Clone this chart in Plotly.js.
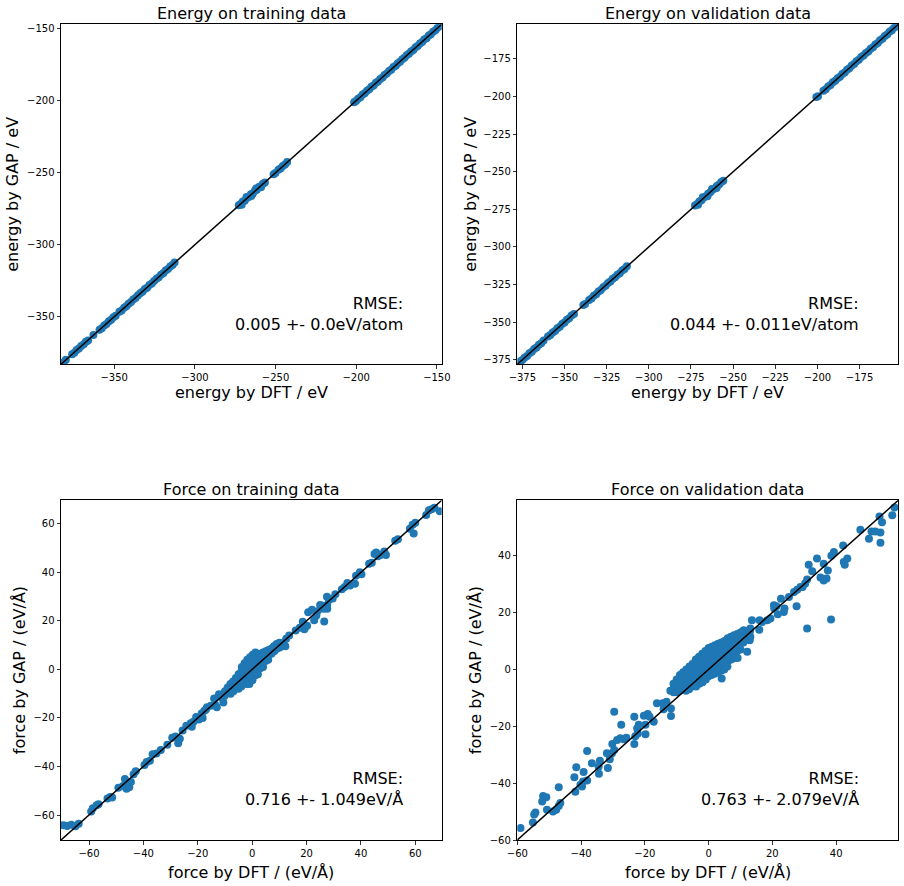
<!DOCTYPE html>
<html>
<head>
<meta charset="utf-8">
<script src="https://cdn.plot.ly/plotly-3.0.1.min.js"></script>
<style>
  body { margin: 0; background: #fff; }
  #plot-area { width: 904px; height: 886px; }
</style>
</head>
<body>
<div id="plot-area"></div>
<script>
// [DFT, GAP] pairs
const energyTrain = [
  [-382.6, -382.4], [-381.3, -381.5], [-380.0, -379.8],
  [-376.1, -376.0], [-374.7, -374.9], [-373.3, -373.1], [-371.9, -372.0], [-370.5, -370.3],
  [-368.9, -369.1], [-367.6, -367.4], [-366.2, -366.4],
  [-362.9, -362.7],
  [-359.1, -359.0], [-357.7, -357.9], [-356.2, -356.0], [-354.8, -355.0], [-353.3, -353.1], [-351.9, -352.1], [-350.5, -350.3], [-349.1, -349.3],
  [-346.8, -346.6], [-345.4, -345.6], [-343.9, -343.7], [-342.5, -342.7], [-341.1, -340.9], [-339.6, -339.8], [-338.2, -338.0], [-336.8, -337.0], [-335.4, -335.2],
  [-333.9, -333.7], [-332.5, -332.7], [-331.0, -330.8], [-329.6, -329.8], [-328.2, -328.0], [-326.7, -326.9], [-325.3, -325.1],
  [-323.8, -323.6], [-322.4, -322.6], [-321.0, -320.8], [-319.6, -319.8], [-318.1, -317.9], [-316.7, -316.9], [-315.3, -315.1], [-313.9, -314.1], [-312.6, -312.4],
  [-272.8, -272.6], [-271.6, -271.8], [-270.3, -270.0], [-269.1, -269.4], [-267.8, -267.5], [-266.6, -266.9], [-265.3, -265.0],
  [-264.1, -264.4], [-262.8, -262.5], [-261.6, -261.9], [-260.3, -260.0], [-259.1, -259.4], [-257.8, -257.6], [-256.6, -256.8],
  [-271.0, -272.3], [-268.0, -266.8], [-265.0, -266.2], [-262.0, -260.9], [-259.0, -260.1],
  [-251.2, -251.0], [-250.1, -250.3],
  [-248.2, -248.0], [-246.9, -247.1], [-245.5, -245.3], [-244.1, -244.3], [-242.8, -242.6],
  [-201.3, -201.1], [-200.1, -200.3], [-198.8, -198.6], [-197.4, -197.6], [-196.0, -195.8], [-194.7, -194.9], [-193.3, -193.1], [-191.9, -192.1],
  [-190.6, -190.4], [-189.2, -189.4], [-187.8, -187.6], [-186.5, -186.7], [-185.1, -184.9], [-183.7, -183.9], [-182.4, -182.2], [-181.0, -181.2],
  [-179.6, -179.4], [-178.3, -178.5], [-176.9, -176.7], [-175.5, -175.7], [-174.2, -174.0], [-172.8, -173.0], [-171.4, -171.2], [-170.1, -170.3],
  [-168.7, -168.5], [-167.3, -167.5], [-166.0, -165.8], [-164.6, -164.8], [-163.2, -163.0], [-161.9, -162.1], [-160.5, -160.3], [-159.1, -159.3],
  [-157.8, -157.6], [-156.4, -156.6], [-155.0, -154.8], [-153.7, -153.9], [-152.3, -152.1], [-150.9, -151.1], [-149.6, -149.4], [-148.2, -148.4]
];

const energyValid = [
  [-376.4, -376.2], [-375.0, -375.2], [-373.6, -373.4], [-372.2, -372.4], [-370.8, -370.6], [-369.4, -369.6],
  [-368.0, -367.8], [-366.6, -366.8], [-365.2, -365.0], [-363.8, -364.0], [-362.4, -362.2],
  [-359.8, -359.6], [-358.4, -358.6], [-357.0, -356.8], [-355.6, -355.8], [-354.2, -354.0], [-352.8, -353.0], [-351.4, -351.2], [-350.0, -350.2],
  [-348.6, -348.4], [-347.2, -347.4], [-345.8, -345.6], [-344.4, -344.6],
  [-338.8, -338.6], [-337.8, -338.0],
  [-335.4, -335.2], [-334.0, -334.2], [-332.6, -332.4], [-331.2, -331.4], [-329.8, -329.6], [-328.4, -328.6], [-327.0, -326.8], [-325.6, -325.8],
  [-324.2, -324.0], [-322.8, -323.0], [-321.4, -321.2], [-320.0, -320.2], [-318.6, -318.4], [-317.2, -317.4], [-315.8, -315.6], [-314.4, -314.6], [-313.0, -312.8],
  [-272.6, -272.4], [-271.3, -271.5], [-270.0, -269.8], [-268.7, -268.9], [-267.4, -267.2], [-266.1, -266.3], [-264.8, -264.6],
  [-263.5, -263.7], [-262.2, -262.0], [-260.9, -261.1], [-259.6, -259.4], [-258.3, -258.5], [-257.0, -256.8], [-255.8, -256.0],
  [-270.8, -272.0], [-268.0, -266.9], [-265.2, -266.3], [-262.5, -261.4], [-259.8, -260.8],
  [-200.6, -200.4], [-199.6, -199.8],
  [-196.4, -196.2], [-195.0, -195.2], [-193.6, -193.4], [-192.2, -192.4], [-190.8, -190.6], [-189.4, -189.6], [-188.0, -187.8], [-186.6, -186.8],
  [-185.2, -185.0], [-183.8, -184.0], [-182.4, -182.2], [-181.0, -181.2], [-179.6, -179.4], [-178.2, -178.4], [-176.8, -176.6], [-175.4, -175.6],
  [-174.0, -173.8], [-172.6, -172.8], [-171.2, -171.0], [-169.8, -170.0], [-168.4, -168.2], [-167.0, -167.2], [-165.6, -165.4], [-164.2, -164.4],
  [-162.8, -162.6], [-161.4, -161.6], [-160.0, -159.8], [-158.6, -158.8], [-157.2, -157.0], [-155.8, -156.0], [-154.4, -154.2], [-153.0, -153.2]
];

const forceTrain = [
  // low tail
  [-69.5, -64.2], [-68, -64.5], [-66.5, -64], [-65, -64.6], [-63.8, -63.6],
  [-59.2, -58.6], [-58.6, -57.2], [-57.2, -56], [-56.5, -55.6],
  [-53.2, -53.2], [-52.2, -52.6], [-51.5, -52.8],
  [-49.2, -48.8], [-47.5, -48], [-46.8, -45.2], [-46.2, -49.2], [-45.6, -47.2], [-45.2, -48.6], [-44.6, -46.4],
  [-43.6, -43.2], [-42.8, -42],
  [-39.6, -39.4], [-38.8, -38.2], [-37.6, -37.6],
  [-36.6, -35], [-35.2, -34.6], [-33.6, -33.2],
  [-31.2, -31], [-29.4, -28.2], [-28.2, -27.6], [-27.2, -30.4], [-26.6, -28.6],
  [-25.6, -25.2], [-24.2, -23.2], [-22.6, -22.2], [-21.6, -21.6], [-22.2, -23.6],
  [-20.6, -19.6], [-19.6, -20.6], [-18.6, -18.2], [-17.6, -17], [-16.6, -15.6], [-18.2, -20],
  [-17, -16.5], [-15.2, -15], [-14, -12], [-13.6, -14.6], [-12.2, -10.2], [-11.2, -11.6], [-10.6, -13.6], [-13, -15.6],
  // core
  [-10, -9], [-10.2, -11], [-9, -7.5], [-9.1, -9.6], [-8, -6], [-8.1, -8], [-7.9, -10],
  [-7, -5], [-7.1, -7], [-6.9, -9], [-6, -3.5], [-6.1, -5.5], [-5.9, -7.5],
  [-5, -2], [-5.1, -4], [-4.9, -6], [-5, -8], [-4, -1], [-4.1, -3], [-3.9, -5], [-4, -7],
  [-3, 0.5], [-3.1, -1.5], [-2.9, -3.5], [-3, -5.5], [-2, 2], [-2.1, 0], [-1.9, -2], [-2, -4], [-2.1, -6],
  [-1, 3], [-1.1, 1], [-0.9, -1], [-1, -3], [-1.1, -5], [0, 4.5], [0.1, 2.5], [-0.1, 0.5], [0, -1.5], [0.1, -3.5],
  [1, 5.5], [1.1, 3.5], [0.9, 1.5], [1, -0.5], [1.1, -2.5], [2, 6], [2.1, 4], [1.9, 2], [2, 0], [2.1, -2],
  [3, 6.5], [3.1, 4.5], [2.9, 2.5], [3, 0.5], [4, 7], [4.1, 5], [3.9, 3], [4, 1],
  [5, 7.5], [5.1, 5.5], [4.9, 3.5], [6, 8], [6.1, 6], [5.9, 4], [7, 8.5], [7.1, 6.5],
  [8, 9.5], [8.1, 7.5], [9, 10.5], [9.1, 8.5], [10, 11], [10.1, 9],
  [0.2, 6], [-0.8, 5], [1.2, 7], [-1.8, 4], [-2.8, 2.5], [-3.8, 1], [0.1, -4.5], [-1, -6],
  // high tail
  [11.5, 11], [12.5, 12.6], [13.6, 14], [12.2, 9.6],
  [16, 16], [17.5, 17.2], [18.6, 19.6], [19.2, 16.6], [20.2, 18],
  [20.6, 23.6], [22, 24.6], [24, 24], [25, 26.6], [26.2, 25], [27.6, 25], [23.6, 22.2],
  [22.8, 20.3], [26.5, 19.8], [26, 26.2], [27, 25.6], [27.6, 26.6],
  [27.5, 30], [28.2, 28.6], [29.6, 29.2], [30.6, 31],
  [33, 33], [34, 34], [35, 35.6], [36, 34.6], [37.8, 35.3],
  [38.2, 38.6], [39.6, 40], [40.2, 39.2], [43, 43.6], [44, 44],
  [45, 47.6], [45.6, 48.2], [46.2, 46.6], [47.2, 47.2], [48.6, 48.6], [49.2, 47.2],
  [52.6, 53], [53.6, 53.6], [58, 58], [59, 59.6], [59.4, 56], [60, 60.4],
  [64, 63.6], [65, 65.6], [66, 66], [67, 66.6], [69, 65.2]
];

const forceValid = [
  // low tail
  [-59, -55.8], [-55.1, -53.8], [-54.3, -50.3], [-54.7, -51], [-51.9, -44.5], [-50.9, -45], [-52.2, -46.5], [-50.7, -49.4],
  [-48.8, -50], [-47.8, -49.4], [-47, -48], [-46.5, -47], [-47, -41.4],
  [-41.8, -43], [-42.1, -37.9], [-39.2, -36.1], [-39.4, -39.4], [-38.1, -39.1], [-39.7, -41.2], [-40.2, -40.6], [-41.5, -34.4], [-38.1, -28.7],
  [-36.6, -33], [-34.1, -32.1], [-34.5, -34.2], [-34.4, -36.7], [-31.6, -34.7],
  [-30.3, -29.5], [-31, -31.6], [-29.6, -28.3], [-29.6, -14.9], [-30.2, -26.2], [-31.9, -29.5],
  [-28.7, -24.8], [-27.7, -24.2], [-26.6, -24.6], [-25.8, -24], [-27.4, -19.5],
  [-23.3, -26.2], [-23.3, -16.6], [-22.4, -20.7], [-21.9, -19.5], [-22.2, -22.5], [-23, -23.5],
  [-20.3, -16.3], [-19.1, -15.7], [-18.5, -16.6], [-19.8, -19.5], [-19.8, -22.8], [-17.2, -18.4],
  [-16.2, -11.9], [-14.4, -11.9], [-14.1, -14], [-11.8, -13.7], [-11.8, -16.4], [-13.2, -11.4],
  [-12, -7.5], [-11, -8], [-10.5, -6.5],
  // core
  [-11, -5], [-11.1, -7], [-10, -3.5], [-10.1, -6], [-9.9, -8],
  [-9, -2], [-9.1, -4], [-8.9, -6], [-9, -7.5], [-8, -1], [-8.1, -3], [-7.9, -5], [-8, -7],
  [-7, 0], [-7.1, -2], [-6.9, -4], [-7, -6], [-7.1, -7.5], [-6, 1], [-6.1, -1], [-5.9, -3], [-6, -5], [-6.1, -7],
  [-5, 2], [-5.1, 0], [-4.9, -2], [-5, -4], [-5.1, -6],
  [-4, 3.5], [-4.1, 1.5], [-3.9, -0.5], [-4, -2.5], [-4.1, -4.5], [-3.9, -6],
  [-3, 4.5], [-3.1, 2.5], [-2.9, 0.5], [-3, -1.5], [-3.1, -3.5], [-2.9, -5],
  [-2, 5.5], [-2.1, 3.5], [-1.9, 1.5], [-2, -0.5], [-2.1, -2.5], [-1.9, -4.5],
  [-1, 6.5], [-1.1, 4.5], [-0.9, 2.5], [-1, 0.5], [-1.1, -1.5], [-0.9, -3.5],
  [0, 7.5], [0.1, 5.5], [-0.1, 3.5], [0, 1.5], [0.1, -0.5], [-0.1, -2.5],
  [1, 8], [1.1, 6], [0.9, 4], [1, 2], [1.1, 0], [0.9, -2],
  [2, 8.5], [2.1, 6.5], [1.9, 4.5], [2, 2.5], [2.1, 0.5], [1.9, -1.5],
  [3, 9], [3.1, 7], [2.9, 5], [3, 3], [3.1, 1], [2.9, -1],
  [4, 9.5], [4.1, 7.5], [3.9, 5.5], [4, 3.5], [4.1, 1.5], [3.9, -0.5],
  [5, 10], [5.1, 8], [4.9, 6], [5, 4], [5.1, 2], [4.9, 0],
  [6, 11], [6.1, 9], [5.9, 7], [6, 5], [6.1, 3], [5.9, 1],
  [7, 11.5], [7.1, 9.5], [6.9, 7.5], [7, 5.5], [7.1, 3.5],
  [8, 12], [8.1, 10], [7.9, 8], [8, 6], [8.1, 4],
  [9, 12.5], [9.1, 10.5], [8.9, 8.5], [9, 6.5], [9.1, 4],
  [10, 13], [10.1, 11], [9.9, 9], [10, 7], [11, 13], [11.1, 11], [10.9, 9.5],
  [12, 13.5], [12.1, 11.5], [13, 13.5], [13.1, 11.5],
  // high tail
  [58.3, 57], [57.6, 54.2], [53.6, 53.8], [54.4, 51.8], [47.6, 49.1], [51.1, 48.5], [52.3, 48.5], [53.9, 48.2], [50.3, 46], [53.9, 44.6],
  [42.2, 43.6], [39.3, 41.3], [38.5, 40], [43.5, 39], [42.4, 37.8], [42.7, 36.8],
  [34, 39], [36.1, 37.2], [31.4, 36.8], [37.4, 34.8], [32.5, 34.5],
  [35.1, 32.3], [36.1, 31.3], [37, 32], [30.9, 31.6], [30.3, 30.2], [29.5, 29],
  [27.8, 28], [28.8, 29], [26.8, 27.2], [25.2, 25.5], [22.7, 24.9],
  [20.5, 22.6], [20.6, 21.4], [21.3, 22.2], [23.8, 21.4], [23.6, 20.2], [21.7, 19.4], [27.6, 22.2],
  [18.4, 17.3], [19.4, 17.9], [16.8, 16.7], [16, 17.3], [13.6, 17.3], [15.9, 14],
  [38.4, 17.6], [30.9, 14.4],
  [13.1, 14.4], [11, 13.8], [10.5, 13.2], [12.9, 10.3], [12.1, 6.2], [4.1, -3.2]
];

// axis limits (same for x and y in each panel), tick spacing
const limits = [[-383, -147], [-378, -152], [-70.3, 69.7], [-60, 59.5]];
const tickSteps = [50, 25, 20, 20];

const panelTitles = ["Energy on training data", "Energy on validation data", "Force on training data", "Force on validation data"];
const xLabels = ["energy by DFT / eV", "energy by DFT / eV", "force by DFT / (eV/Å)", "force by DFT / (eV/Å)"];
const yLabels = ["energy by GAP / eV", "energy by GAP / eV", "force by GAP / (eV/Å)", "force by GAP / (eV/Å)"];
const rmseTexts = ["0.005 +- 0.0eV/atom", "0.044 +- 0.011eV/atom", "0.716 +- 1.049eV/Å", "0.763 +- 2.079eV/Å"];

const W = 904, H = 886;
// panel boxes in px: [left, right, top, bottom]
const boxes = [
  [61, 441.7, 24.3, 364.3],
  [517.3, 898.3, 24.3, 364.3],
  [61, 441.7, 500.3, 840],
  [517.3, 898.3, 500.3, 840]
];
const yLabelX = [12.5, 470.5, 19, 475];

const datasets = [energyTrain, energyValid, forceTrain, forceValid];
const font = "DejaVu Sans";

let traces = [];
let layout = {
  width: W, height: H,
  margin: { l: 0, r: 0, t: 0, b: 0 },
  paper_bgcolor: "#fff", plot_bgcolor: "#fff",
  showlegend: false,
  font: { family: font, size: 10, color: "#000" },
  annotations: []
};

for (let i = 0; i < 4; i++) {
  const n = i === 0 ? "" : String(i + 1);
  const xa = "x" + n, ya = "y" + n;
  const b = boxes[i];
  const pts = datasets[i];

  traces.push({
    x: pts.map(p => p[0]),
    y: pts.map(p => p[1]),
    xaxis: xa, yaxis: ya,
    mode: "markers", type: "scatter",
    marker: { color: "#1f77b4", size: 8, line: { width: 0 } },
    hoverinfo: "skip"
  });
  traces.push({
    x: limits[i], y: limits[i],
    xaxis: xa, yaxis: ya,
    mode: "lines", type: "scatter",
    line: { color: "#000", width: 1.5 },
    hoverinfo: "skip"
  });

  const ax = {
    range: limits[i], dtick: tickSteps[i], tick0: 0,
    ticks: "outside", ticklen: 3.5, tickwidth: 0.8, tickcolor: "#000",
    showline: true, linecolor: "#000", linewidth: 1, mirror: true,
    showgrid: false, zeroline: false, automargin: false, fixedrange: true,
    tickfont: { family: font, size: 10, color: "#000" }
  };
  layout["xaxis" + n] = Object.assign({}, ax, { domain: [b[0] / W, b[1] / W], anchor: ya });
  layout["yaxis" + n] = Object.assign({}, ax, { domain: [1 - b[3] / H, 1 - b[2] / H], anchor: xa });

  const cx = (b[0] + b[1]) / 2 / W;
  const topY = i < 2 ? 13.2 : 489.5;
  const xlabY = i < 2 ? 393 : 872;
  const cy = 1 - (b[2] + b[3]) / 2 / H;
  const txt = (text, x, y, extra) => Object.assign({
    text: text, x: x, y: y, xref: "paper", yref: "paper",
    showarrow: false, xanchor: "center", yanchor: "middle", borderpad: 0,
    font: { family: font, size: 16, color: "#000" }
  }, extra || {});

  layout.annotations.push(txt(panelTitles[i], cx, 1 - topY / H));
  layout.annotations.push(txt(xLabels[i], cx, 1 - xlabY / H));
  layout.annotations.push(txt(yLabels[i], yLabelX[i] / W, cy, { textangle: -90 }));
  layout.annotations.push(txt("RMSE:<br>" + rmseTexts[i], 0.9, 0.149, {
    xref: xa + " domain", yref: ya + " domain", xanchor: "right", align: "right"
  }));
}

Plotly.newPlot("plot-area", traces, layout, { displayModeBar: false, staticPlot: true });
</script>
</body>
</html>
